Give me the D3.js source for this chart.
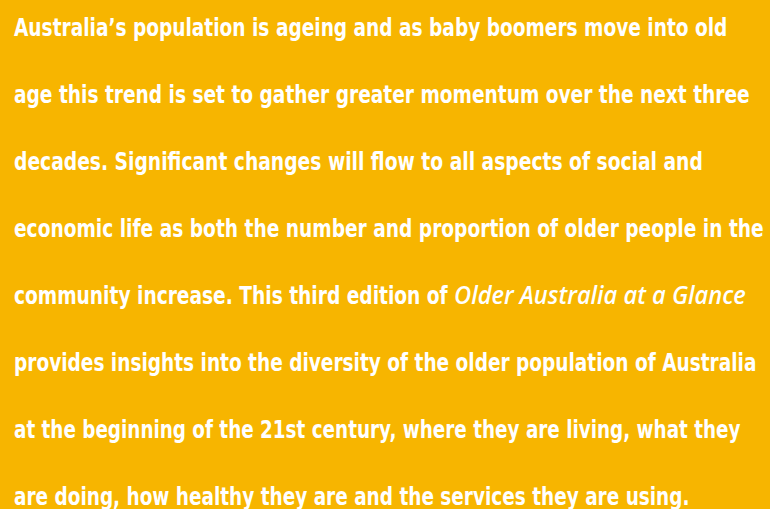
<!DOCTYPE html>
<html>
<head>
<meta charset="utf-8">
<script src="https://cdn.jsdelivr.net/npm/d3@7"></script>
<style>
  html, body { margin: 0; padding: 0; background: #f7b500; }
  text { font-family: "Liberation Sans Narrow", "DejaVu Sans Condensed", "Roboto", sans-serif; font-weight: bold; fill: #fff; }
  text.ital { font-family: "Open Sans", "Lato", sans-serif; font-style: italic; font-weight: 600; }
</style>
</head>
<body>
<svg id="chart"></svg>
<script>
// paragraph lines, split into plain / italic pieces
const lines = [
  ["Australia\u2019s population is ageing and as baby boomers move into old"],
  ["age this trend is set to gather greater momentum over the next three"],
  ["decades. Significant changes will flow to all aspects of social and"],
  ["economic life as both the number and proportion of older people in the"],
  ["community increase. This third edition of", "Older Australia at a Glance"],
  ["provides insights into the diversity of the older population of Australia"],
  ["at the beginning of the 21st century, where they are living, what they"],
  ["are doing, how healthy they are and the services they are using."]
];
// which pieces are italic
const italics = [[false], [false], [false], [false], [false, true], [false], [false], [false]];
// start / end x of each piece
const pieceSpans = [
  [[14, 728]], [[14, 750]], [[14, 703]], [[14, 764]],
  [[14, 448], [454, 746]],
  [[14, 757]], [[14, 741]], [[14, 690]]
];

const width = 770, height = 509;
const svg = d3.select("#chart").attr("width", width).attr("height", height);

svg.append("rect").attr("width", width).attr("height", height).attr("fill", "#f7b500");

const y = d3.scaleLinear().domain([0, lines.length - 1]).range([36, 505]);

const pieces = lines.flatMap((l, i) => l.map((txt, j) => ({
  txt, row: i, ital: italics[i][j], x0: pieceSpans[i][j][0], x1: pieceSpans[i][j][1]
})));

const t = svg.selectAll("text.piece")
  .data(pieces)
  .join("text")
    .attr("class", d => d.ital ? "piece ital" : "piece")
    .style("font-size", d => d.ital ? "26px" : "25px")
    .text(d => d.txt);

// squeeze each piece horizontally so it spans the same width as in the picture
t.attr("transform", function(d) {
  const natural = this.getComputedTextLength();
  const sx = (d.x1 - d.x0) / natural;
  return `translate(${d.x0},${y(d.row)}) scale(${sx},1)`;
});
</script>
</body>
</html>
